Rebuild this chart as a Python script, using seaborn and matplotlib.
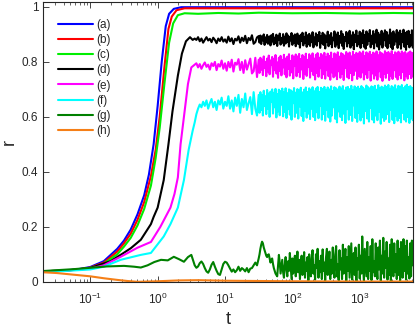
import numpy as np
import pandas as pd
import matplotlib
matplotlib.use("Agg")
import matplotlib.pyplot as plt
import seaborn as sns
from matplotlib.ticker import LogLocator, FixedLocator, FixedFormatter, NullFormatter

sns.set_style("ticks", {"xtick.direction": "in", "ytick.direction": "in"})
plt.rcParams["font.family"] = ["Liberation Sans", "DejaVu Sans"]
plt.rcParams["mathtext.fontset"] = "custom"
plt.rcParams["mathtext.rm"] = "Liberation Sans"
plt.rcParams["mathtext.it"] = "Liberation Sans:italic"

labels = ["(a)", "(b)", "(c)", "(d)", "(e)", "(f)", "(g)", "(h)"]
colors = ["#0000FF", "#FF0000", "#00EE00", "#000000", "#FF00FF", "#00FFFF", "#008000", "#F57F17"]

# ---- rising (smooth) parts: log10(t) and r ----
a_logt = [-1.72, -1.4, -1.2, -1.0, -0.8, -0.6, -0.5, -0.4, -0.3, -0.2, -0.13, -0.06, 0.0, 0.06, 0.12, 0.17, 0.24, 0.35, 3.8]
a_r = [0.038, 0.041, 0.045, 0.054, 0.075, 0.12, 0.15, 0.19, 0.245, 0.315, 0.39, 0.50, 0.64, 0.80, 0.93, 0.975, 0.993, 0.999, 0.999]

b_logt = [-1.72, -1.4, -1.2, -1.0, -0.8, -0.6, -0.5, -0.4, -0.3, -0.2, -0.1, -0.03, 0.03, 0.1, 0.16, 0.21, 0.28, 0.4, 3.8]
b_r = [0.038, 0.041, 0.044, 0.052, 0.07, 0.11, 0.14, 0.175, 0.225, 0.29, 0.385, 0.48, 0.60, 0.78, 0.92, 0.965, 0.988, 0.995, 0.995]

c_logt = [-1.72, -1.4, -1.2, -1.0, -0.8, -0.6, -0.5, -0.4, -0.3, -0.2, -0.1, -0.03, 0.03, 0.1, 0.17, 0.23, 0.3, 0.4,
          0.6, 0.9, 1.2, 1.5, 2.0, 2.5, 3.0, 3.5, 3.8]
c_r = [0.038, 0.041, 0.044, 0.05, 0.066, 0.10, 0.128, 0.16, 0.205, 0.265, 0.35, 0.45, 0.56, 0.72, 0.87, 0.94, 0.97, 0.977,
       0.975, 0.978, 0.976, 0.979, 0.977, 0.978, 0.976, 0.978, 0.977]

d_logt = [-1.72, -1.4, -1.0, -0.7, -0.55, -0.4, -0.25, -0.1, -0.06, 0.0, 0.09, 0.16, 0.22, 0.3, 0.36, 0.42, 0.48, 0.52]
d_r = [0.037, 0.040, 0.05, 0.075, 0.098, 0.122, 0.153, 0.21, 0.236, 0.27, 0.37, 0.50, 0.62, 0.75, 0.83, 0.875, 0.89, 0.88]

e_logt = [-1.72, -1.4, -1.0, -0.8, -0.55, -0.3, -0.1, 0.04, 0.19, 0.25, 0.3, 0.34, 0.4, 0.45, 0.5]
e_r = [0.037, 0.04, 0.048, 0.06, 0.091, 0.124, 0.145, 0.20, 0.27, 0.32, 0.38, 0.50, 0.62, 0.72, 0.78]

f_logt = [-1.72, -1.4, -1.0, -0.8, -0.55, -0.25, -0.1, 0.09, 0.19, 0.3, 0.39, 0.46, 0.52]
f_r = [0.036, 0.039, 0.045, 0.055, 0.08, 0.098, 0.105, 0.165, 0.21, 0.27, 0.37, 0.48, 0.55]

g_logt = [-1.72, -1.25, -0.75, -0.5, -0.35, -0.25, -0.15, -0.05, 0.05, 0.15, 0.24, 0.32, 0.39, 0.45, 0.5]
g_r = [0.039, 0.046, 0.056, 0.058, 0.055, 0.052, 0.06, 0.072, 0.08, 0.078, 0.091, 0.082, 0.073, 0.09, 0.098]

h_logt = [-1.72, -1.5, -1.25, -1.0, -0.8, -0.6, -0.45, -0.3, 0.0, 0.3, 0.6, 1.0, 1.5, 2.0, 3.0, 3.8]
h_r = [0.035, 0.032, 0.026, 0.02, 0.013, 0.007, 0.003, 0.0, 0.002, 0.005, 0.006, 0.004, 0.003, 0.002, 0.001, 0.001]

# ---- fluctuating tails ----
# early: every 0.025 decade from log10(t)=0.55 ; late: every 0.0125 decade from log10(t)=1.5125
early_start, early_step = 0.55, 0.025
late_start, late_step = 1.5125, 0.0125

d_early = [0.885, 0.880, 0.890, 0.875, 0.885, 0.870, 0.880, 0.890, 0.878, 0.884,
           0.872, 0.888, 0.880, 0.868, 0.885, 0.876, 0.890, 0.874, 0.882, 0.870,
           0.892, 0.875, 0.886, 0.865, 0.884, 0.878, 0.893, 0.870, 0.888, 0.876,
           0.895, 0.868, 0.887, 0.879, 0.897, 0.866, 0.872, 0.889, 0.894]
d_late = [0.870, 0.896, 0.865, 0.892, 0.878, 0.900, 0.862, 0.889, 0.871, 0.898, 0.866, 0.884, 0.893, 0.860, 0.897,
          0.874, 0.902, 0.864, 0.888, 0.868, 0.899, 0.858, 0.894, 0.880, 0.903, 0.863, 0.887, 0.870, 0.901, 0.859,
          0.892, 0.867, 0.904, 0.873, 0.896, 0.856, 0.890, 0.878, 0.905, 0.862, 0.895, 0.869, 0.900, 0.857, 0.886,
          0.903, 0.865, 0.893, 0.852, 0.899, 0.876, 0.906, 0.860, 0.891, 0.870, 0.907, 0.855, 0.897, 0.864, 0.902,
          0.858, 0.895, 0.872, 0.908, 0.853, 0.889, 0.866, 0.904, 0.859, 0.898, 0.877, 0.909, 0.851, 0.894, 0.868,
          0.906, 0.862, 0.900, 0.849, 0.892, 0.874, 0.910, 0.857, 0.897, 0.866, 0.905, 0.853, 0.888, 0.879, 0.911,
          0.855, 0.899, 0.864, 0.907, 0.850, 0.894, 0.870, 0.912, 0.859, 0.901, 0.847, 0.890, 0.876, 0.909, 0.856,
          0.903, 0.868, 0.913, 0.852, 0.896, 0.861, 0.908, 0.846, 0.899, 0.873, 0.914, 0.857, 0.893, 0.865, 0.910,
          0.851, 0.904, 0.869, 0.915, 0.855, 0.897, 0.848, 0.911, 0.862, 0.902, 0.877, 0.916, 0.853, 0.895, 0.866,
          0.912, 0.849, 0.900, 0.871, 0.917, 0.856, 0.906, 0.845, 0.898, 0.864, 0.913, 0.852, 0.903, 0.879, 0.915,
          0.858, 0.909, 0.850, 0.896, 0.868, 0.918, 0.854, 0.904, 0.846, 0.911, 0.862, 0.899, 0.875, 0.916, 0.851,
          0.907, 0.864, 0.914, 0.848, 0.901, 0.872, 0.917, 0.855, 0.905, 0.844, 0.910, 0.866, 0.913, 0.853, 0.898,
          0.860, 0.915, 0.852]

e_early = [0.790, 0.795, 0.780, 0.792, 0.775, 0.788, 0.798, 0.782, 0.790, 0.772,
           0.795, 0.785, 0.800, 0.770, 0.792, 0.783, 0.805, 0.775, 0.795, 0.768,
           0.800, 0.780, 0.808, 0.765, 0.797, 0.790, 0.810, 0.770, 0.800, 0.760,
           0.806, 0.772, 0.792, 0.812, 0.758, 0.766, 0.815, 0.745, 0.808]
e_late = [0.760, 0.815, 0.772, 0.808, 0.752, 0.820, 0.778, 0.800, 0.748, 0.812, 0.765, 0.823, 0.755, 0.805, 0.790,
          0.818, 0.746, 0.810, 0.770, 0.825, 0.758, 0.798, 0.742, 0.815, 0.768, 0.822, 0.751, 0.806, 0.780, 0.826,
          0.755, 0.812, 0.744, 0.819, 0.775, 0.828, 0.750, 0.803, 0.762, 0.824, 0.740, 0.816, 0.785, 0.827, 0.748,
          0.820, 0.764, 0.829, 0.745, 0.810, 0.773, 0.825, 0.738, 0.818, 0.757, 0.830, 0.749, 0.806, 0.782, 0.828,
          0.743, 0.821, 0.768, 0.831, 0.752, 0.812, 0.736, 0.826, 0.760, 0.832, 0.746, 0.815, 0.777, 0.829, 0.741,
          0.824, 0.755, 0.833, 0.739, 0.817, 0.770, 0.830, 0.748, 0.822, 0.735, 0.834, 0.762, 0.811, 0.744, 0.831,
          0.750, 0.826, 0.737, 0.835, 0.766, 0.819, 0.742, 0.832, 0.757, 0.828, 0.734, 0.823, 0.778, 0.836, 0.745,
          0.829, 0.740, 0.834, 0.760, 0.820, 0.733, 0.837, 0.752, 0.825, 0.768, 0.833, 0.738, 0.827, 0.749, 0.836,
          0.743, 0.831, 0.762, 0.838, 0.736, 0.822, 0.755, 0.835, 0.741, 0.829, 0.772, 0.837, 0.732, 0.826, 0.758,
          0.834, 0.739, 0.830, 0.751, 0.838, 0.735, 0.824, 0.766, 0.836, 0.744, 0.832, 0.731, 0.827, 0.757, 0.839,
          0.742, 0.833, 0.760, 0.836, 0.734, 0.828, 0.750, 0.839, 0.738, 0.825, 0.770, 0.835, 0.745, 0.831, 0.736,
          0.837, 0.753, 0.829, 0.740, 0.838, 0.763, 0.832, 0.733, 0.836, 0.748, 0.827, 0.739, 0.834, 0.756, 0.838,
          0.741, 0.833, 0.747]

f_early = [0.580, 0.610, 0.630, 0.645, 0.635, 0.655, 0.640, 0.660, 0.630, 0.650,
           0.665, 0.635, 0.655, 0.625, 0.660, 0.645, 0.670, 0.630, 0.655, 0.640,
           0.675, 0.630, 0.660, 0.620, 0.670, 0.640, 0.680, 0.615, 0.665, 0.635,
           0.685, 0.625, 0.650, 0.672, 0.610, 0.690, 0.630, 0.605, 0.680]
f_late = [0.615, 0.690, 0.625, 0.680, 0.605, 0.695, 0.640, 0.675, 0.610, 0.698, 0.630, 0.685, 0.600, 0.692, 0.655,
          0.700, 0.612, 0.688, 0.635, 0.702, 0.598, 0.683, 0.620, 0.699, 0.606, 0.694, 0.645, 0.703, 0.602, 0.690,
          0.618, 0.704, 0.596, 0.686, 0.628, 0.700, 0.608, 0.697, 0.590, 0.692, 0.650, 0.705, 0.600, 0.688, 0.615,
          0.701, 0.594, 0.696, 0.638, 0.706, 0.603, 0.689, 0.585, 0.699, 0.622, 0.707, 0.597, 0.691, 0.612, 0.704,
          0.592, 0.698, 0.630, 0.708, 0.600, 0.693, 0.588, 0.703, 0.617, 0.709, 0.595, 0.690, 0.640, 0.706, 0.590,
          0.702, 0.610, 0.709, 0.586, 0.697, 0.625, 0.707, 0.598, 0.700, 0.583, 0.711, 0.605, 0.694, 0.635, 0.708,
          0.593, 0.704, 0.580, 0.699, 0.620, 0.710, 0.600, 0.703, 0.588, 0.712, 0.612, 0.696, 0.578, 0.707, 0.628,
          0.709, 0.590, 0.701, 0.607, 0.713, 0.585, 0.698, 0.642, 0.711, 0.596, 0.705, 0.582, 0.710, 0.615, 0.702,
          0.587, 0.712, 0.600, 0.706, 0.576, 0.700, 0.622, 0.714, 0.594, 0.708, 0.583, 0.703, 0.632, 0.711, 0.590,
          0.707, 0.580, 0.713, 0.605, 0.699, 0.588, 0.715, 0.618, 0.704, 0.575, 0.710, 0.598, 0.706, 0.585, 0.714,
          0.592, 0.709, 0.610, 0.716, 0.581, 0.702, 0.625, 0.712, 0.589, 0.707, 0.577, 0.715, 0.603, 0.700, 0.586,
          0.713, 0.596, 0.708, 0.580, 0.716, 0.615, 0.705, 0.590, 0.711, 0.583, 0.717, 0.600, 0.709, 0.578, 0.712,
          0.594, 0.706, 0.588]

g_early = [0.060, 0.051, 0.056, 0.068, 0.074, 0.065, 0.050, 0.038, 0.033, 0.045,
           0.062, 0.072, 0.055, 0.040, 0.028, 0.025, 0.045, 0.065, 0.073, 0.070,
           0.060, 0.048, 0.037, 0.045, 0.035, 0.042, 0.055, 0.040, 0.050, 0.045,
           0.038, 0.050, 0.035, 0.048, 0.050, 0.060, 0.070, 0.060, 0.085]
g_late = [0.100, 0.120, 0.135, 0.146, 0.140, 0.125, 0.115, 0.105, 0.095, 0.090, 0.098, 0.100, 0.085, 0.070, 0.080,
          0.085, 0.065, 0.050, 0.040, 0.030, 0.025, 0.020, 0.060, 0.098, 0.070, 0.030, 0.055, 0.080, 0.035, 0.015,
          0.060, 0.090, 0.045, 0.020, 0.075, 0.040, 0.105, 0.060, 0.010, 0.085, 0.030, 0.070, 0.095, 0.020, 0.050,
          0.110, 0.035, 0.080, 0.010, 0.065, 0.095, 0.025, 0.055, 0.108, 0.015, 0.070, 0.040, 0.090, 0.005, 0.100,
          0.045, 0.020, 0.085, 0.115, 0.030, 0.060, 0.008, 0.100, 0.050, 0.120, 0.015, 0.075, 0.035, 0.095, 0.010,
          0.118, 0.040, 0.070, 0.005, 0.090, 0.120, 0.025, 0.060, 0.110, 0.010, 0.080, 0.030, 0.125, 0.050, 0.015,
          0.100, 0.130, 0.020, 0.065, 0.006, 0.115, 0.045, 0.085, 0.010, 0.135, 0.030, 0.070, 0.120, 0.004, 0.090,
          0.040, 0.130, 0.015, 0.075, 0.140, 0.008, 0.060, 0.105, 0.025, 0.125, 0.005, 0.085, 0.045, 0.135, 0.012,
          0.095, 0.030, 0.165, 0.050, 0.005, 0.120, 0.070, 0.020, 0.145, 0.010, 0.090, 0.040, 0.130, 0.006, 0.155,
          0.035, 0.075, 0.020, 0.140, 0.060, 0.010, 0.125, 0.045, 0.150, 0.005, 0.095, 0.030, 0.160, 0.015, 0.110,
          0.050, 0.145, 0.008, 0.085, 0.025, 0.135, 0.004, 0.155, 0.060, 0.020, 0.140, 0.035, 0.100, 0.010, 0.150,
          0.025, 0.120, 0.005, 0.145, 0.070, 0.015, 0.155, 0.040, 0.130, 0.008, 0.150, 0.030, 0.090, 0.012, 0.140,
          0.020, 0.150, 0.060]

ytick_vals = [0, 0.2, 0.4, 0.6, 0.8, 1.0]
ytick_labels = ["0", "0.2", "0.4", "0.6", "0.8", "1"]


def positions(start, step, vals):
    return [start + step * i for i in range(len(vals))]


def full(lt, rv, early, late):
    x = lt + positions(early_start, early_step, early) + positions(late_start, late_step, late)
    return x, rv + early + late


series = [
    (a_logt, a_r),
    (b_logt, b_r),
    (c_logt, c_r),
    full(d_logt, d_r, d_early, d_late),
    full(e_logt, e_r, e_early, e_late),
    full(f_logt, f_r, f_early, f_late),
    full(g_logt, g_r, g_early, g_late),
    (h_logt, h_r),
]

fig = plt.figure(figsize=(4.15, 3.3), dpi=100)
ax = fig.add_axes([0.104, 0.146, 0.891, 0.848])

for (lt, rv), lab, col in zip(series, labels, colors):
    df = pd.DataFrame({"t": np.power(10.0, np.array(lt)), "r": rv})
    sns.lineplot(data=df, x="t", y="r", ax=ax, color=col, label=lab,
                 linewidth=1.5, estimator=None, sort=False)

ax.set_xscale("log")
ax.set_xlim(10 ** -1.7, 10 ** 3.79)
ax.set_ylim(0, 1.018)
ax.yaxis.set_major_locator(FixedLocator(ytick_vals))
ax.yaxis.set_major_formatter(FixedFormatter(ytick_labels))
ax.xaxis.set_major_locator(LogLocator(base=10, numticks=12))
ax.xaxis.set_minor_locator(LogLocator(base=10, subs=np.arange(2, 10), numticks=12))
ax.xaxis.set_minor_formatter(NullFormatter())

for s in ax.spines.values():
    s.set_visible(True)
    s.set_color("#262626")
    s.set_linewidth(0.8)
ax.tick_params(which="both", direction="in", top=True, right=True, colors="#262626",
               labelsize=8.5, labelcolor="#262626")
ax.tick_params(which="major", length=4, width=0.6)
ax.tick_params(which="minor", length=2, width=0.5)
ax.tick_params(axis="x", which="major", pad=7)

ax.set_xlabel("t", fontsize=13, labelpad=3)
ax.set_ylabel("r", fontsize=13, labelpad=3)

leg = ax.legend(loc="upper left", bbox_to_anchor=(0.02, 0.965), frameon=False, fontsize=8.5,
                handlelength=3.0, handletextpad=0.3, labelspacing=0.27, borderaxespad=0.2)
for line in leg.get_lines():
    line.set_linewidth(1.5)

fig.savefig("out.png", dpi=100)
